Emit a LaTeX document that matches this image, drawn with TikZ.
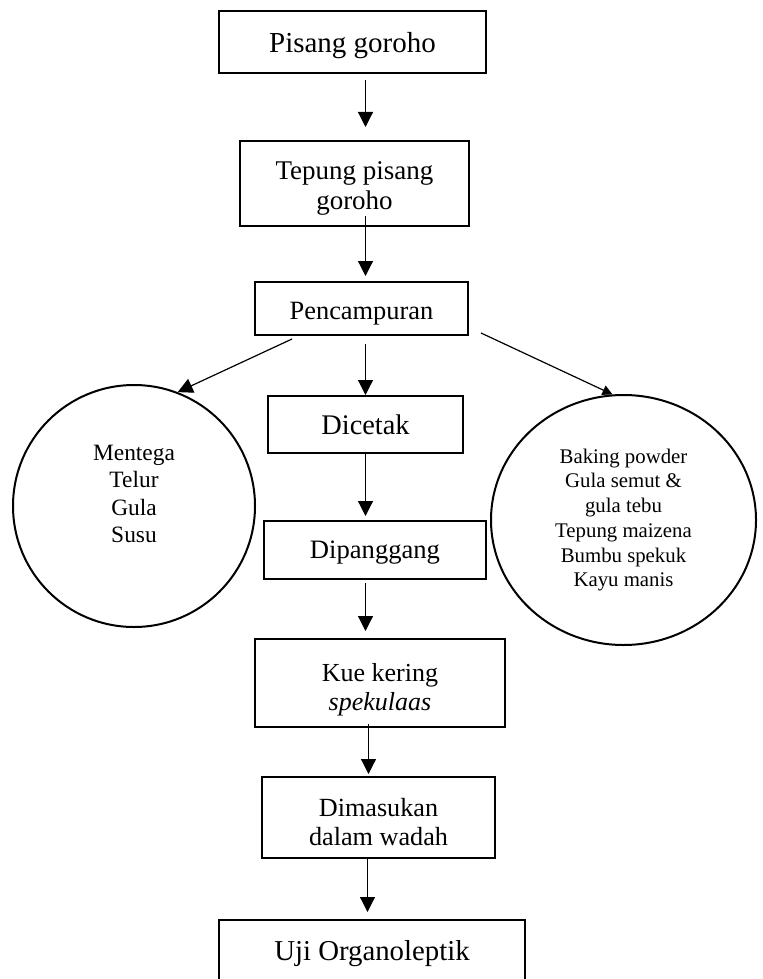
\documentclass[tikz,border=0pt]{standalone}
\usepackage{fontspec}
\setmainfont{Liberation Serif}
\usetikzlibrary{arrows.meta,shapes.geometric}
% strut that pushes a box text down a little
\newcommand{\lowerby}[1]{\rule{0pt}{#1}}

\begin{document}
\begin{tikzpicture}[x=0.5pt,y=-0.5pt,
    box/.style={draw,line width=1pt,inner sep=0pt,align=center},
    circ/.style={draw,circle,line width=1pt,inner sep=0pt,minimum size=121pt},
    oval/.style={draw,ellipse,line width=1pt,inner sep=0pt,align=center,
      minimum width=132.5pt,minimum height=125pt},
    arr/.style={-{Triangle[length=7.5pt,width=7.5pt]},line width=0.6pt},
    smallarr/.style={-{Triangle[length=5pt,width=5pt]},line width=0.6pt}]
  \useasboundingbox (0,0) rectangle (762,979);
  % boxes down the middle
  \node[box,minimum width=133.5pt,minimum height=31pt,text depth=0pt,font=\fontsize{14.5}{17}\selectfont] (pisang) at (352.5,42) {Pisang goroho};
  \node[box,minimum width=114.5pt,minimum height=42.5pt,font=\fontsize{13.5}{15}\selectfont] (tepung) at (354.5,183.5) {\lowerby{14pt}Tepung pisang\\goroho};
  \node[box,minimum width=106.5pt,minimum height=26.5pt,font=\fontsize{13.2}{15}\selectfont] (campur) at (361.5,308.5) {\lowerby{13.5pt}Pencampuran};
  \node[box,minimum width=97.5pt,minimum height=28.5pt,font=\fontsize{14.2}{17}\selectfont] (cetak) at (365.5,424.5) {Dicetak};
  \node[box,minimum width=111pt,minimum height=29pt,text depth=0pt,font=\fontsize{13.3}{16}\selectfont] (panggang) at (375,550) {Dipanggang};
  \node[box,minimum width=125pt,minimum height=44pt,font=\fontsize{13}{14.5}\selectfont] (kue) at (380,683) {\lowerby{16pt}Kue kering\\\textit{spekulaas}};
  \node[box,minimum width=116.5pt,minimum height=40.5pt,font=\fontsize{13.1}{14.5}\selectfont] (wadah) at (378.5,817.5) {\lowerby{14pt}Dimasukan\\dalam wadah};
  \node[box,minimum width=153pt,minimum height=34pt,font=\fontsize{14.4}{16}\selectfont] (uji) at (372,954) {Uji Organoleptik};
  % ingredients
  \node[circ] (mentega) at (134,506) {};
  \node[align=center,font=\fontsize{11.7}{13.75}\selectfont] (mentegatxt) at (134,494) {Mentega\\Telur\\Gula\\Susu};
  \node[oval,font=\fontsize{10.4}{12.35}\selectfont] (bahan) at (623.5,520) {Baking powder\\Gula semut \&\\gula tebu\\Tepung maizena\\Bumbu spekuk\\Kayu manis};
  % arrows
  \draw[arr,shorten <=3pt,shorten >=6.5pt] (pisang.south -| cetak) -- (tepung.north -| cetak);
  \draw[arr,shorten <=-5.5pt,shorten >=2.5pt] (tepung.south -| cetak) -- (campur.north -| cetak);
  \draw[arr,shorten <=4pt] (campur.south -| cetak) -- (cetak.north);
  \draw[arr,shorten >=2pt] (cetak.south) -- (panggang.north -| cetak);
  \draw[arr,shorten <=1.5pt,shorten >=3.5pt] (panggang.south -| cetak) -- (kue.north -| cetak);
  \draw[arr,shorten <=-2pt,shorten >=1pt] ([xshift=1.5pt]kue.south -| cetak) -- ([xshift=1.5pt]wadah.north -| cetak);
  \draw[arr,shorten >=3.5pt] ([xshift=1pt]wadah.south -| cetak) -- ([xshift=1pt]uji.north -| cetak);
  \draw[arr] ([shift={(38,3)}]campur.south west) -- (mentega.69);
  \draw[smallarr] ([shift={(12,-3)}]campur.south east) -- (bahan.95);
\end{tikzpicture}
\end{document}
